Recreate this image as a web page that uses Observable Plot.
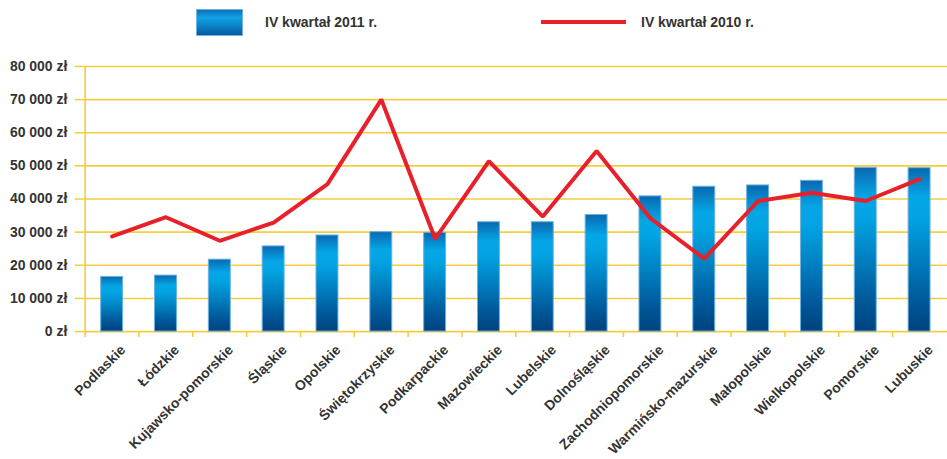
<!DOCTYPE html>
<html><head><meta charset="utf-8">
<script src="https://cdn.jsdelivr.net/npm/d3@7"></script>
<script src="https://cdn.jsdelivr.net/npm/@observablehq/plot@0.6"></script>
<style>
body{margin:0;background:#fff;overflow:hidden;font-family:"Liberation Sans",Arial,sans-serif;}
#legend{position:relative;height:46px;width:947px;}
#legend .sw{position:absolute;left:196px;top:9px;width:47px;height:27px;background:linear-gradient(to bottom,#0a6fb8 0%,#13a2e6 30%,#0a86c8 60%,#04599e 100%);border:1px solid #6fb3e0;box-sizing:border-box;}
#legend .ln{position:absolute;left:541px;top:20px;width:85px;height:4px;background:#e8202a;}
#legend span{position:absolute;top:14px;font-size:14px;font-weight:bold;color:#333;line-height:16px;white-space:nowrap;}
#chart svg{display:block;overflow:visible;}
</style></head><body>
<div id="legend">
 <div class="sw"></div><span style="left:265px">IV kwartał 2011 r.</span>
 <div class="ln"></div><span style="left:641px">IV kwartał 2010 r.</span>
</div>
<div id="chart"></div>
<script>
const regions = ["Podlaskie","Łódzkie","Kujawsko-pomorskie","Śląskie","Opolskie","Świętokrzyskie","Podkarpackie","Mazowieckie","Lubelskie","Dolnośląskie","Zachodniopomorskie","Warmińsko-mazurskie","Małopolskie","Wielkopolskie","Pomorskie","Lubuskie"];
const values2011 = [16500,16900,21700,25700,29000,30000,29800,33000,33000,35200,40800,43700,44100,45500,49400,49300];
const values2010 = [28700,34500,27400,32900,44500,70000,28000,51400,34700,54500,34200,22000,39400,41900,39400,46000];
const yTicks = [0,10000,20000,30000,40000,50000,60000,70000,80000];

const data = regions.map((r,i)=>({region:r, v2011: values2011[i], v2010: values2010[i]}));
const fmt = d => d3.format(",")(d).replace(/,/g," ") + " zł";
const W = 950, ML = 83, MR = 0;
const step = (W - ML - MR) / regions.length;
const yellow = "#f6cd3c";

const defs = () => {
  const g = d3.create("svg:defs");
  const lg = g.append("linearGradient").attr("id","barGrad").attr("x1",0).attr("y1",0).attr("x2",0).attr("y2",1);
  [["0%","#0a68b0"],["18%","#04a6e6"],["30%","#02a4e3"],["55%","#0081c2"],["80%","#005a9c"],["100%","#00427e"]]
    .forEach(([o,c])=>lg.append("stop").attr("offset",o).attr("stop-color",c));
  return g.node();
};

const chart = Plot.plot({
  width: W,
  height: 413,
  marginLeft: ML,
  marginRight: MR,
  marginTop: 20,
  marginBottom: 127,
  style: {fontFamily: '"Liberation Sans", Arial, sans-serif', background: "#fff", color: "#333", overflow: "visible"},
  x: {domain: regions, paddingInner: 0.6, paddingOuter: 0.3, label: null},
  y: {domain: [0, 80000], label: null},
  marks: [
    defs,
    Plot.gridY(yTicks, {stroke: yellow, strokeOpacity: 1, strokeWidth: 1.6}),
    Plot.ruleX([regions[0]], {dx: -step/2, y1: 0, y2: 80000, stroke: yellow, strokeWidth: 1.6}),
    Plot.axisY(yTicks, {tickSize: 8, tickPadding: 8, stroke: yellow, strokeWidth: 1.6, fill: "#333", tickFormat: fmt, fontSize: 14, fontWeight: "bold", label: null}),
    Plot.axisX({anchor: "bottom", tickSize: 6, dx: -step/2, stroke: yellow, strokeWidth: 1.6, tickFormat: () => "", label: null}),
    Plot.axisX({anchor: "bottom", tickSize: 0, tickRotate: -45, tickPadding: 16, dx: 11, fill: "#333", fontSize: 14, fontWeight: "bold", label: null}),
    Plot.barY(data, {x: "region", y: "v2011", fill: "url(#barGrad)", stroke: "#6db2df", strokeWidth: 1}),
    Plot.line(data, {x: "region", y: "v2010", stroke: "#e8202a", strokeWidth: 4, strokeLinejoin: "miter", curve: "linear"})
  ]
});
document.getElementById("chart").appendChild(chart);
</script>
</body></html>
